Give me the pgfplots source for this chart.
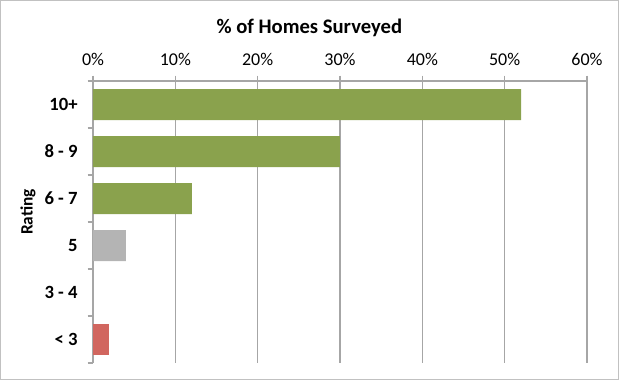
\documentclass[border=0pt]{standalone}
\usepackage{pgfplots}
\pgfplotsset{compat=1.18}
\usepackage{fontspec}
\setmainfont{Carlito}
\definecolor{bargreen}{HTML}{8AA24D}
\definecolor{bargray}{HTML}{B4B4B4}
\definecolor{barred}{HTML}{D1665F}
\definecolor{gridgray}{HTML}{A6A6A6}
\begin{document}
\begin{tikzpicture}[x=1pt,y=1pt]
\draw[draw=gridgray!70, line width=0.8pt] (0.4,0.4) rectangle (463.85,284.6);
\node[font=\fontsize{15.5}{17}\selectfont\bfseries] at (232,264) {\% of Homes Surveyed};
\node[font=\fontsize{13}{15}\selectfont\bfseries, rotate=90] at (21,126) {Rating};
\begin{axis}[
  at={(69.75pt,12.75pt)}, anchor=south west,
  scale only axis, width=370.5pt, height=211.5pt,
  xbar, bar shift=0pt, bar width=23.25pt,
  xmin=0, xmax=60, ymin=-0.5, ymax=5.5,
  y dir=reverse,
  axis x line*=top, axis y line*=left,
  axis line style={gridgray, line width=0.8pt},
  xtick={0,10,...,60},
  xticklabel={\pgfmathprintnumber{\tick}\%},
  /pgf/number format/assume math mode=true,
  ytick={-0.5,0.5,...,5.5}, yticklabels={},
  extra y ticks={0,1,2,3,4,5},
  extra y tick labels={10+,8 - 9,6 - 7,5,3 - 4,< 3},
  extra y tick style={major tick length=0pt, grid=none,
     yticklabel style={font=\fontsize{14}{16}\selectfont\bfseries, xshift=-8pt}},
  tick align=outside, major tick length=4pt,
  tick style={gridgray, line width=0.8pt},
  xmajorgrids, grid style={gridgray, line width=0.8pt},
  xticklabel style={font=\fontsize{13.5}{15}\selectfont, yshift=4pt},
  clip=false,
]
\addplot[fill=bargreen, draw=none] coordinates {(52,0) (30,1) (12,2)};
\addplot[fill=bargray, draw=none] coordinates {(4,3) (0,4)};
\addplot[fill=barred, draw=none] coordinates {(2,5)};
\end{axis}
\end{tikzpicture}
\end{document}
